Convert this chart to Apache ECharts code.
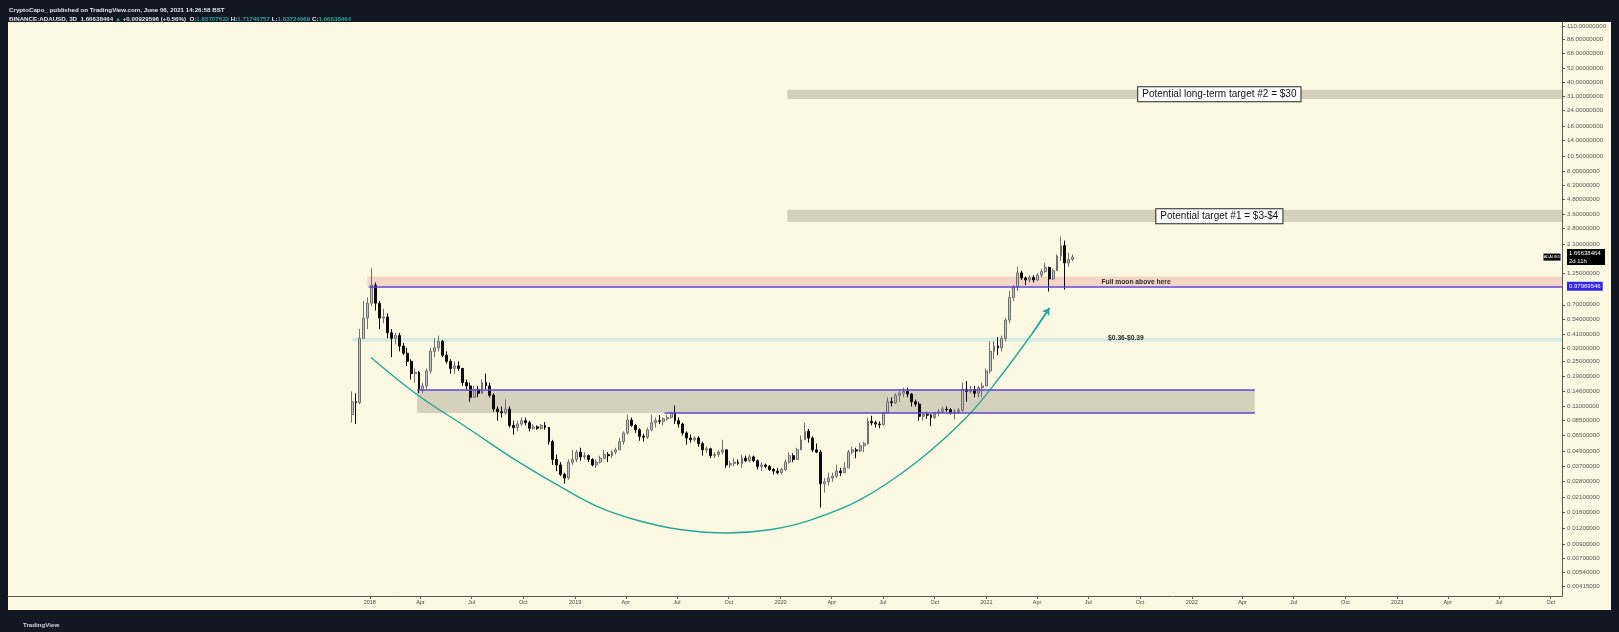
<!DOCTYPE html>
<html><head><meta charset="utf-8">
<script src="https://cdn.jsdelivr.net/npm/echarts@6/dist/echarts.min.js"></script>
<style>
html,body{margin:0;padding:0;background:#131722;width:1619px;height:632px;overflow:hidden;}
#frame{position:absolute;left:8px;top:22px;width:1603px;height:588px;background:#fdf8e1;}
#chart{position:absolute;left:0;top:0;width:1619px;height:632px;}
</style></head><body>
<div id="frame"></div><div id="chart"></div>
<script>
// ---------- DATA ----------
const weekStart = '2017-11-27';      // first weekly candle (Monday)
const firstOpen = 0.095;
const closes = [
0.120,0.118,0.380,0.550,0.720,
1.000,0.720,0.550,0.560,0.420,
0.380,0.400,0.330,0.290,0.250,
0.200,0.205,0.150,0.160,0.210,
0.300,0.320,0.360,0.280,0.250,
0.220,0.230,0.220,0.170,0.160,
0.130,0.150,0.140,0.170,0.160,
0.135,0.105,0.100,0.098,0.105,
0.078,0.075,0.080,0.085,0.082,
0.074,0.076,0.074,0.078,0.075,
0.058,0.042,0.038,0.032,0.030,
0.040,0.042,0.048,0.044,0.045,
0.042,0.038,0.040,0.043,0.046,
0.045,0.048,0.050,0.058,0.068,
0.086,0.078,0.072,0.064,0.063,
0.072,0.082,0.085,0.084,0.088,
0.090,0.098,0.085,0.080,0.068,
0.062,0.060,0.062,0.056,0.050,
0.051,0.045,0.046,0.048,0.050,
0.038,0.039,0.040,0.039,0.043,
0.041,0.044,0.041,0.037,0.038,
0.037,0.035,0.034,0.033,0.035,
0.040,0.045,0.042,0.050,0.060,
0.070,0.062,0.050,0.048,0.027,
0.028,0.030,0.031,0.034,0.033,
0.036,0.048,0.050,0.049,0.054,
0.056,0.084,0.082,0.080,0.079,
0.098,0.120,0.118,0.135,0.140,
0.145,0.138,0.120,0.115,0.092,
0.095,0.094,0.090,0.098,0.100,
0.105,0.104,0.098,0.100,0.103,
0.150,0.145,0.150,0.140,0.155,
0.160,0.210,0.300,0.330,0.320,
0.380,0.530,0.800,0.970,1.250,
1.140,1.100,1.150,1.100,1.200,
1.280,1.380,1.120,1.300,1.700,
2.050,1.500,1.600,1.666
];
const highs = [
0.145,0.140,0.450,0.750,0.800,
1.360,1.050,0.750,0.650,0.600,
0.450,0.420,0.420,0.350,0.320,
0.260,0.220,0.210,0.170,0.220,
0.320,0.380,0.400,0.370,0.300,
0.260,0.250,0.250,0.220,0.180,
0.170,0.160,0.160,0.180,0.200,
0.170,0.140,0.110,0.110,0.125,
0.110,0.085,0.085,0.090,0.090,
0.085,0.080,0.078,0.080,0.083,
0.076,0.060,0.046,0.040,0.033,
0.042,0.050,0.050,0.052,0.048,
0.046,0.043,0.042,0.045,0.050,
0.048,0.050,0.052,0.062,0.070,
0.095,0.090,0.080,0.074,0.067,
0.075,0.095,0.090,0.094,0.090,
0.095,0.100,0.112,0.090,0.082,
0.070,0.066,0.064,0.064,0.058,
0.053,0.052,0.048,0.050,0.060,
0.050,0.041,0.043,0.042,0.046,
0.045,0.046,0.045,0.042,0.040,
0.039,0.038,0.036,0.036,0.036,
0.042,0.048,0.047,0.052,0.065,
0.082,0.073,0.064,0.056,0.050,
0.030,0.033,0.033,0.038,0.036,
0.040,0.050,0.053,0.052,0.057,
0.058,0.090,0.093,0.085,0.084,
0.100,0.130,0.130,0.140,0.150,
0.155,0.155,0.140,0.125,0.120,
0.100,0.100,0.096,0.100,0.105,
0.110,0.110,0.107,0.105,0.107,
0.170,0.175,0.160,0.160,0.160,
0.170,0.220,0.360,0.360,0.390,
0.400,0.550,0.900,1.000,1.400,
1.300,1.170,1.200,1.200,1.250,
1.350,1.500,1.400,1.350,1.750,
2.420,2.250,1.800,1.750
];
const lows = [
0.082,0.080,0.115,0.380,0.450,
0.680,0.630,0.450,0.500,0.380,
0.270,0.340,0.300,0.280,0.230,
0.180,0.170,0.140,0.140,0.150,
0.200,0.270,0.300,0.270,0.240,
0.200,0.200,0.210,0.160,0.150,
0.120,0.130,0.130,0.140,0.150,
0.130,0.100,0.085,0.090,0.095,
0.075,0.066,0.070,0.077,0.078,
0.070,0.072,0.072,0.072,0.072,
0.055,0.038,0.034,0.031,0.027,
0.029,0.038,0.040,0.041,0.042,
0.040,0.037,0.036,0.039,0.042,
0.040,0.043,0.046,0.050,0.055,
0.066,0.076,0.068,0.059,0.058,
0.061,0.070,0.075,0.080,0.078,
0.085,0.088,0.080,0.075,0.065,
0.055,0.057,0.058,0.053,0.045,
0.047,0.043,0.043,0.044,0.046,
0.036,0.036,0.037,0.038,0.036,
0.040,0.040,0.040,0.035,0.034,
0.036,0.034,0.032,0.032,0.032,
0.034,0.039,0.040,0.042,0.050,
0.060,0.057,0.048,0.047,0.0175,
0.023,0.026,0.028,0.030,0.031,
0.033,0.036,0.046,0.043,0.048,
0.048,0.055,0.078,0.075,0.074,
0.078,0.097,0.110,0.115,0.120,
0.130,0.130,0.110,0.110,0.085,
0.085,0.088,0.077,0.088,0.092,
0.097,0.100,0.095,0.087,0.096,
0.100,0.120,0.140,0.130,0.130,
0.130,0.160,0.200,0.260,0.280,
0.300,0.360,0.500,0.750,0.900,
1.100,1.000,1.050,1.050,1.080,
1.150,1.250,0.890,1.100,1.300,
1.550,0.920,1.400,1.550
];

// rounding-bowl curve drawn on the chart
const curveDates  = ['2018-01-03','2018-03-27','2018-06-24','2018-09-21','2018-12-19','2019-02-14','2019-04-26','2019-07-06','2019-09-29','2019-12-13','2020-02-22','2020-05-21','2020-08-30','2020-11-27','2021-01-25','2021-03-24','2021-04-23'];
const curvePrices = [0.268,0.1356,0.0744,0.0405,0.0237,0.0175,0.0137,0.01176,0.01102,0.0117,0.01388,0.0201,0.0401,0.0908,0.188,0.419,0.660];

// price zones
const target2Zone = { from: '2020-01-13', low: 29.5, high: 35.0 };
const target1Zone = { from: '2020-01-13', low: 3.15, high: 3.95 };
const moonZone    = { from: '2017-12-28', low: 0.98, high: 1.17 };
const cyanZone    = { from: '2017-12-01', low: 0.3575, high: 0.385 };
const supportZone = { from: '2018-03-26', to: '2022-04-23', low: 0.0978, high: 0.1485 };
const moonLine    = { from: '2017-12-30', value: 0.97969546 };
const supportTopLine = { from: '2018-03-26', to: '2022-04-23', value: 0.1485 };
const supportBotLine = { from: '2019-06-09', to: '2022-04-23', value: 0.0978 };

// text notes
const notes = [
  { date: '2022-02-19', price: 32.2, text: 'Potential long-term target #2 = $30', boxed: true },
  { date: '2022-02-19', price: 3.5,  text: 'Potential target #1 = $3-$4', boxed: true },
  { date: '2021-09-24', price: 1.06, text: 'Full moon above here', boxed: false },
  { date: '2021-09-06', price: 0.378, text: '$0.36-$0.39', boxed: false }
];

const lastPrice = 1.66638464;
const lastCountdown = '2d 11h';
const symbolName = 'ADAUSD';

const xMin = '2016-03-29', xMax = '2023-10-21';
const yMin = 0.003504, yMax = 119.9;
const yTicks = [0.00415,0.0054,0.007,0.009,0.012,0.016,0.021,0.028,0.037,0.049,0.065,0.085,0.11,0.146,0.19,0.25,0.32,0.41,0.54,0.7,1.25,2.1,2.8,3.6,4.8,6.2,8,10.5,14,18,24,31,40,52,68,88,110];
const xTicks = ['2018-01-01','2018-04-01','2018-07-01','2018-10-01','2019-01-01','2019-04-01','2019-07-01','2019-10-01','2020-01-01','2020-04-01','2020-07-01','2020-10-01','2021-01-01','2021-04-01','2021-07-01','2021-10-01','2022-01-01','2022-04-01','2022-07-01','2022-10-01','2023-01-01','2023-04-01','2023-07-01','2023-10-01'];
const monthNames = ['Jan','Feb','Mar','Apr','May','Jun','Jul','Aug','Sep','Oct','Nov','Dec'];

const headerLine1 = 'CryptoCapo_ published on TradingView.com, June 06, 2021 14:26:58 BST';
const headerLine2 = '{w|BINANCE:ADAUSD, 3D  1.66638464 }{g|▲ }{w|+0.00929596 (+0.56%)  O:}{g|1.65707632}{w| H:}{g|1.71746757}{w| L:}{g|1.63724969}{w| C:}{g|1.66638464}';
const footerText = 'TradingView';

// ---------- CHART ----------
const FONT = 'Liberation Sans, Arial, sans-serif';
const L = v => Math.log10(v);
const T = s => { const p = s.split('-').map(Number); return Date.UTC(p[0], p[1] - 1, p[2]); };
const DAY = 86400000;
const t0 = T(weekStart);

const candleData = closes.map((c, i) => {
  const o = i === 0 ? firstOpen : closes[i - 1];
  return [t0 + (i * 7 + 3.5) * DAY, L(o), L(c), L(lows[i]), L(highs[i])];
});
const curveData = curveDates.map((d, i) => [T(d), L(curvePrices[i])]);

const ZONE_GRAY = '#d6d1bd', ZONE_PINK = '#f2d5c5', ZONE_MINT = '#d3ede2', PURPLE = '#5d46d8', TEAL = '#26a69a';
const AXIS = '#5a5a5a';

function area(z, color, to) {
  return [
    { coord: [T(z.from), L(z.low)], itemStyle: { color: color } },
    { coord: [to ? T(to) : T(xMax), L(z.high)] }
  ];
}
function hline(l) {
  return [
    { coord: [T(l.from), L(l.value)] },
    { coord: [l.to ? T(l.to) : T(xMax), L(l.value)] }
  ];
}
const n = curveData.length;

const chart = echarts.init(document.getElementById('chart'), null, { renderer: 'canvas' });
chart.setOption({
  animation: false,
  backgroundColor: 'transparent',
  textStyle: { fontFamily: FONT },
  title: [
    { text: headerLine1, left: 4, top: 2, textStyle: { color: '#e0e3eb', fontSize: 6.2, fontWeight: 'bold', fontFamily: FONT } },
    { text: headerLine2, left: 4, top: 11, textStyle: { fontFamily: FONT, rich: {
        w: { color: '#e0e3eb', fontSize: 6.2, fontWeight: 'bold', fontFamily: FONT },
        g: { color: '#26a69a', fontSize: 6.2, fontWeight: 'bold', fontFamily: FONT } } } },
    { text: footerText, left: 18, top: 617, textStyle: { color: '#d1d4dc', fontSize: 6.2, fontWeight: 'bold', fontFamily: FONT } }
  ],
  grid: { left: 8, right: 57, top: 22, bottom: 36, outerBoundsMode: 'none' },
  xAxis: {
    type: 'value', min: T(xMin), max: T(xMax), scale: true,
    axisLine: { show: true, onZero: false, lineStyle: { color: AXIS, width: 1 } },
    axisTick: { show: true, length: 3, customValues: xTicks.map(T), lineStyle: { color: AXIS } },
    axisLabel: {
      customValues: xTicks.map(T), fontSize: 5.5, color: '#444', margin: 3, fontFamily: FONT,
      formatter: v => { const d = new Date(v); return d.getUTCMonth() === 0 ? String(d.getUTCFullYear()) : monthNames[d.getUTCMonth()]; }
    },
    splitLine: { show: false }
  },
  yAxis: {
    type: 'value', position: 'right', min: L(yMin), max: L(yMax), scale: true,
    axisLine: { show: true, onZero: false, lineStyle: { color: AXIS, width: 1 } },
    axisTick: { show: true, length: 3, customValues: yTicks.map(L), lineStyle: { color: AXIS } },
    axisLabel: {
      customValues: yTicks.map(L).concat([L(lastPrice), L(moonLine.value)]),
      fontSize: 6.2, color: '#555', margin: 5, fontFamily: FONT,
      formatter: v => {
        if (Math.abs(v - L(lastPrice)) < 1e-7) return '{cur|' + lastPrice.toFixed(8) + '}\n{cur|' + lastCountdown + '}';
        if (Math.abs(v - L(moonLine.value)) < 1e-7) return '{lvl|' + moonLine.value.toFixed(8) + '}';
        return Math.pow(10, v).toFixed(8);
      },
      rich: {
        cur: { backgroundColor: '#000', color: '#fff', fontSize: 6, width: 34, padding: [1, 2], lineHeight: 8, fontFamily: FONT },
        lvl: { backgroundColor: '#3326e6', color: '#fff', fontSize: 6, padding: [1.5, 2], fontFamily: FONT }
      }
    },
    splitLine: { show: false }
  },
  series: [
    {
      name: 'curve', type: 'line', data: curveData, smooth: 0.35, showSymbol: false, symbol: 'none', z: 2,
      lineStyle: { color: TEAL, width: 1.4 }, silent: true,
      markArea: {
        silent: true,
        data: [
          area(target2Zone, ZONE_GRAY),
          area(target1Zone, ZONE_GRAY),
          area(moonZone, ZONE_PINK),
          area(cyanZone, ZONE_MINT),
          area(supportZone, ZONE_GRAY, supportZone.to)
        ]
      },
      markLine: {
        silent: true, symbol: ['none', 'none'], animation: false,
        label: { show: false },
        lineStyle: { color: PURPLE, width: 1.5, type: 'solid' },
        data: [
          hline(moonLine), hline(supportTopLine), hline(supportBotLine)
        ]
      },
      markPoint: {
        silent: true,
        data: notes.map(nt => ({
          coord: [T(nt.date), L(nt.price)], symbol: 'rect', symbolSize: 1,
          itemStyle: { color: 'rgba(0,0,0,0)' },
          label: nt.boxed
            ? { show: true, position: 'inside', formatter: nt.text, color: '#111', fontSize: 10, fontFamily: FONT,
                backgroundColor: '#fff', borderColor: '#222', borderWidth: 1, padding: [2, 4] }
            : { show: true, position: 'inside', formatter: nt.text, color: '#2a2a2a', fontSize: 6.7, fontFamily: FONT, fontWeight: 'bold' }
        })).concat([{
          coord: [T(xMax), L(lastPrice)], symbol: 'rect', symbolSize: [17, 7], symbolOffset: [-10, 0],
          itemStyle: { color: '#000' },
          label: { show: true, position: 'inside', formatter: symbolName, color: '#fff', fontSize: 4, fontFamily: FONT }
        }])
      }
    },
    {
      name: 'arrow', type: 'line', data: curveData.slice(n - 2), showSymbol: false, symbol: 'none', z: 2,
      lineStyle: { color: TEAL, width: 0, opacity: 0 }, silent: true,
      markLine: {
        silent: true, symbol: ['none', 'arrow'], symbolSize: 7, animation: false,
        label: { show: false },
        lineStyle: { color: TEAL, width: 1.4, type: 'solid' },
        data: [[{ coord: curveData[n - 2] }, { coord: curveData[n - 1] }]]
      }
    },
    {
      name: 'ADAUSD', type: 'candlestick', data: candleData, barWidth: 2.4, z: 3,
      itemStyle: { color: '#c4c4c4', color0: '#0b0b0b', borderColor: '#6f6f6f', borderColor0: '#0b0b0b', borderWidth: 1 }
    }
  ]
});
</script>
</body></html>
